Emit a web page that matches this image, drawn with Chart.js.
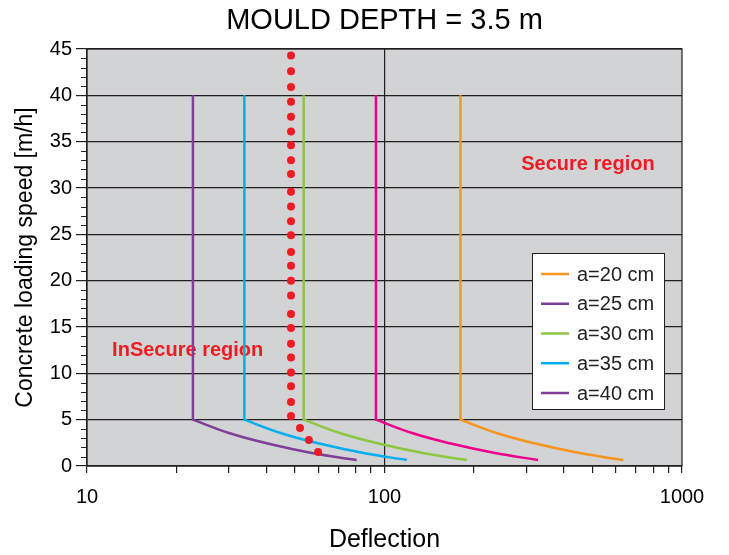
<!DOCTYPE html>
<html>
<head>
<meta charset="utf-8">
<script src="https://cdn.jsdelivr.net/npm/chart.js@4/dist/chart.umd.min.js"></script>
<style>
  body { margin: 0; background: #fff; }
</style>
</head>
<body>
<canvas id="myChart" width="729" height="555"></canvas>
<script>
// deflection (x) / loading speed (y)
const a20x = [180, 180, 180, 239.4, 318.6, 457.2, 635];
const a20y = [40, 5, 5, 3.53, 2.45, 1.37, 0.65];
const a25x = [93.6, 93.6, 93.6, 124.5, 165.7, 237.7, 328];
const a25y = [40, 5, 5, 3.53, 2.45, 1.37, 0.65];
const a30x = [53.5, 53.5, 53.5, 71.2, 94.7, 135.9, 189];
const a30y = [40, 5, 5, 3.53, 2.45, 1.37, 0.65];
const a35x = [33.8, 33.8, 33.8, 45.0, 59.8, 85.9, 118.8];
const a35y = [40, 5, 5, 3.53, 2.45, 1.37, 0.65];
const a40x = [22.7, 22.7, 22.7, 30.2, 40.2, 57.6, 80.6];
const a40y = [40, 5, 5, 3.53, 2.45, 1.37, 0.65];

const limitX = [48.5, 48.5, 48.5, 48.5, 48.5, 48.5, 48.5, 48.5, 48.5, 48.5, 48.5, 48.5, 48.5,
                48.5, 48.5, 48.5, 48.5, 48.5, 48.5, 48.5, 48.5, 48.5, 48.5, 48.5, 48.5, 52.0, 55.7, 59.8];
const limitY = [44.3, 42.6, 40.9, 39.3, 37.7, 36.1, 34.6, 33.0, 31.5, 29.6, 28.0, 26.4, 24.9,
                23.1, 21.6, 20.0, 18.4, 16.4, 14.9, 13.2, 11.7, 10.1, 8.6, 6.9, 5.4, 4.1, 2.8, 1.5];

const seriesNames = ['a=20 cm', 'a=25 cm', 'a=30 cm', 'a=35 cm', 'a=40 cm'];
const xTicks = [10, 20, 30, 40, 50, 60, 70, 80, 90, 100, 200, 300, 400, 500, 600, 700, 800, 900, 1000];
const xLabels = [10, 100, 1000];
const yMax = 45;

const toPoints = (xs, ys) => xs.map((x, i) => ({ x: x, y: ys[i] }));

const mkLine = (label, xs, ys, color, legendColor) => ({
    label: label,
    data: toPoints(xs, ys),
    borderColor: color,
    legendColor: legendColor,
    borderWidth: 2.5,
    pointRadius: 0,
    showLine: true,
    tension: 0.4,
    fill: false,
    order: 1
});

const chartBox = {
    id: 'chartBox',
    beforeDraw(chart) {
        const { ctx, chartArea: a } = chart;
        ctx.save();
        ctx.fillStyle = '#fff';
        ctx.fillRect(0, 0, chart.width, chart.height);
        ctx.fillStyle = '#D1D3D4';
        ctx.fillRect(a.left, a.top, a.right - a.left, a.bottom - a.top);
        ctx.restore();
    },
    beforeDatasetsDraw(chart) {
        const { ctx, scales: { x, y } } = chart;
        ctx.save();
        ctx.fillStyle = '#ED1C24';
        ctx.font = 'bold 20px "Liberation Sans", Arial, sans-serif';
        ctx.textAlign = 'center';
        ctx.textBaseline = 'middle';
        ctx.fillText('Secure region', x.getPixelForValue(483), y.getPixelForValue(32.5));
        ctx.fillText('InSecure region', x.getPixelForValue(21.8), y.getPixelForValue(12.5));
        ctx.restore();
    },
    afterDraw(chart) {
        const { ctx, chartArea: a, scales: { y } } = chart;
        ctx.save();
        // frame
        ctx.strokeStyle = '#231F20';
        ctx.lineWidth = 1.2;
        ctx.strokeRect(a.left, a.top, a.right - a.left, a.bottom - a.top);
        // minor y ticks
        ctx.lineWidth = 1;
        ctx.beginPath();
        for (let v = 1; v < yMax; v++) {
            if (v % 5 === 0) continue;
            const py = Math.round(y.getPixelForValue(v)) + 0.5;
            ctx.moveTo(a.left - 6, py);
            ctx.lineTo(a.left, py);
        }
        ctx.stroke();

        // legend box
        const lines = chart.data.datasets.filter(d => d.legendColor);
        const bx = a.right - 150, by = a.top + 204, bw = 132, bh = 156;
        ctx.fillStyle = '#fff';
        ctx.fillRect(bx, by, bw, bh);
        ctx.strokeStyle = '#231F20';
        ctx.lineWidth = 1;
        ctx.strokeRect(bx + 0.5, by + 0.5, bw, bh);
        ctx.font = '20px "Liberation Sans", Arial, sans-serif';
        ctx.textBaseline = 'middle';
        ctx.textAlign = 'left';
        lines.forEach((d, i) => {
            const ry = by + 21 + i * 29.75;
            ctx.strokeStyle = d.legendColor;
            ctx.lineWidth = 2.5;
            ctx.beginPath();
            ctx.moveTo(bx + 9, ry);
            ctx.lineTo(bx + 37, ry);
            ctx.stroke();
            ctx.fillStyle = '#231F20';
            ctx.fillText(d.label, bx + 45, ry + 1);
        });
        ctx.restore();
    }
};

new Chart(document.getElementById('myChart'), {
    type: 'scatter',
    data: {
        datasets: [
            {
                label: 'limit',
                data: toPoints(limitX, limitY),
                pointRadius: 4,
                pointBackgroundColor: '#ED1C24',
                pointBorderWidth: 0,
                showLine: false,
                order: 0
            },
            mkLine(seriesNames[0], a20x, a20y, '#F7941D', '#F7941D'),
            mkLine(seriesNames[1], a25x, a25y, '#EC008C', '#7F3F98'),
            mkLine(seriesNames[2], a30x, a30y, '#8DC63F', '#8DC63F'),
            mkLine(seriesNames[3], a35x, a35y, '#00AEEF', '#00AEEF'),
            mkLine(seriesNames[4], a40x, a40y, '#7F3F98', '#7F3F98')
        ]
    },
    options: {
        responsive: false,
        animation: false,
        layout: { padding: { left: 0, right: 47, top: 0, bottom: 0 } },
        plugins: {
            legend: { display: false },
            tooltip: { enabled: false },
            title: {
                display: true,
                fullSize: false,
                text: 'MOULD DEPTH = 3.5 m',
                color: '#000',
                font: { family: '"Liberation Sans", Arial, sans-serif', size: 29, weight: 'normal' },
                padding: { top: 4, bottom: 10.2 }
            }
        },
        scales: {
            x: {
                type: 'logarithmic',
                min: 10,
                max: 1000,
                afterBuildTicks: (axis) => {
                    axis.ticks = xTicks.map(v => ({ value: v }));
                },
                afterFit: (axis) => { axis.height = 89; },
                border: { display: true, color: '#231F20', width: 1.2 },
                grid: {
                    color: (c) => (c.tick && c.tick.value === 100 ? '#231F20' : 'rgba(0,0,0,0)'),
                    tickColor: '#231F20',
                    tickLength: 7,
                    lineWidth: 1.2
                },
                ticks: {
                    autoSkip: false,
                    maxRotation: 0,
                    padding: 12,
                    color: '#000',
                    font: { family: '"Liberation Sans", Arial, sans-serif', size: 20 },
                    callback: (v) => (xLabels.includes(v) ? String(v) : '')
                },
                title: {
                    display: true,
                    text: 'Deflection',
                    color: '#000',
                    font: { family: '"Liberation Sans", Arial, sans-serif', size: 25 },
                    padding: { top: 0, bottom: 0 }
                }
            },
            y: {
                min: 0,
                max: yMax,
                afterFit: (axis) => { axis.width = 87; },
                border: { display: true, color: '#231F20', width: 1.2 },
                grid: {
                    color: (c) => (c.tick && c.tick.value % 5 === 0 ? '#231F20' : 'rgba(0,0,0,0)'),
                    tickColor: (c) => (c.tick && c.tick.value % 5 === 0 ? '#231F20' : 'rgba(0,0,0,0)'),
                    tickLength: 11,
                    lineWidth: 1.2
                },
                ticks: {
                    stepSize: 1,
                    autoSkip: false,
                    padding: 4,
                    color: '#000',
                    font: { family: '"Liberation Sans", Arial, sans-serif', size: 20 },
                    callback: (v) => (v % 5 === 0 ? String(v) : '')
                },
                title: {
                    display: true,
                    text: 'Concrete loading speed [m/h]',
                    color: '#000',
                    font: { family: '"Liberation Sans", Arial, sans-serif', size: 23 },
                    padding: { top: 12, bottom: 0 }
                }
            }
        }
    },
    plugins: [chartBox]
});
</script>
</body>
</html>
